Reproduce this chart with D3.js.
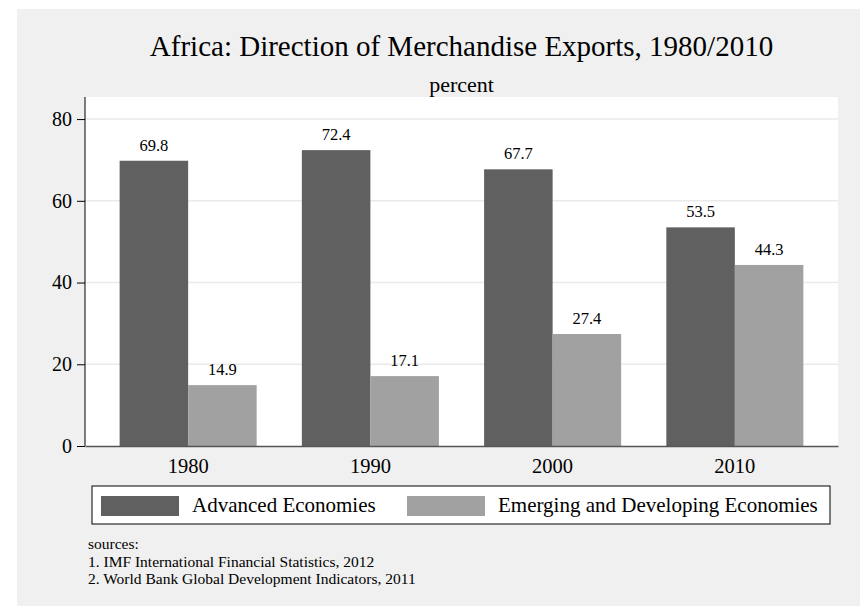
<!DOCTYPE html>
<html>
<head>
<meta charset="utf-8">
<script src="https://cdn.jsdelivr.net/npm/d3@7"></script>
<style>
  body { margin: 0; background: #fff; }
  text { font-family: "Liberation Serif", "Times New Roman", serif; fill: #000; }
</style>
</head>
<body>
<div id="chart"></div>
<script>
const years = ["1980", "1990", "2000", "2010"];
const advanced = [69.8, 72.4, 67.7, 53.5];
const emerging = [14.9, 17.1, 27.4, 44.3];
const seriesNames = ["Advanced Economies", "Emerging and Developing Economies"];
const seriesColors = ["#606060", "#a1a1a1"];
const yTicks = [0, 20, 40, 60, 80];
const sourceLines = [
    "sources:",
    "1. IMF International Financial Statistics, 2012",
    "2. World Bank Global Development Indicators, 2011"
];

const width = 860, height = 606;
const plot = { left: 85, right: 838, top: 97, bottom: 446 };

const svg = d3.select("#chart")
    .append("svg")
    .attr("width", width)
    .attr("height", height);

// outer gray panel
svg.append("rect")
    .attr("x", 17).attr("y", 9)
    .attr("width", width - 17).attr("height", height - 9)
    .attr("fill", "#f0f0f0");

// plot region
svg.append("rect")
    .attr("x", plot.left).attr("y", plot.top)
    .attr("width", plot.right - plot.left).attr("height", plot.bottom - plot.top)
    .attr("fill", "#fff");

const x = d3.scaleBand()
    .domain(years)
    .range([plot.left, plot.right])
    .paddingInner(0.248)
    .paddingOuter(0.19);

const xs = d3.scaleBand()
    .domain(seriesNames)
    .range([0, x.bandwidth()]);

const y = d3.scaleLinear()
    .domain([0, 85.4])
    .range([plot.bottom, plot.top]);

// grid lines
svg.append("g")
    .selectAll("line")
    .data(yTicks.filter(d => d > 0))
    .join("line")
    .attr("x1", plot.left).attr("x2", plot.right)
    .attr("y1", d => y(d)).attr("y2", d => y(d))
    .attr("stroke", "#eaeaea")
    .attr("stroke-width", 1.5);

// bars
const rows = years.map((yr, i) => ({ year: yr, values: [advanced[i], emerging[i]] }));

const groups = svg.append("g")
    .selectAll("g")
    .data(rows)
    .join("g")
    .attr("transform", d => `translate(${x(d.year)},0)`);

groups.selectAll("rect")
    .data(d => d.values.map((v, j) => ({ name: seriesNames[j], value: v, j: j })))
    .join("rect")
    .attr("x", d => xs(d.name))
    .attr("width", xs.bandwidth())
    .attr("y", d => y(d.value))
    .attr("height", d => y(0) - y(d.value))
    .attr("fill", d => seriesColors[d.j]);

groups.selectAll("text")
    .data(d => d.values.map((v, j) => ({ name: seriesNames[j], value: v })))
    .join("text")
    .attr("x", d => xs(d.name) + xs.bandwidth() / 2)
    .attr("y", d => y(d.value) - 10)
    .attr("text-anchor", "middle")
    .style("font-size", "16.5px")
    .text(d => d.value.toFixed(1));

// y axis
const yAxis = svg.append("g")
    .attr("transform", `translate(${plot.left},0)`)
    .call(d3.axisLeft(y).tickValues(yTicks).tickSize(8).tickPadding(5).tickSizeOuter(0));
yAxis.select(".domain").attr("stroke", "#000").attr("d", `M0,${plot.top}V${plot.bottom}`);
yAxis.selectAll(".tick line").attr("stroke", "#000");
yAxis.selectAll(".tick text")
    .style("font-size", "20px")
    .style("font-family", "Liberation Serif");

// x axis
const xAxis = svg.append("g")
    .attr("transform", `translate(0,${plot.bottom})`)
    .call(d3.axisBottom(x).tickSize(0).tickPadding(12));
xAxis.select(".domain").attr("stroke", "#555").attr("stroke-width", 1.5);
xAxis.selectAll(".tick text")
    .style("font-size", "20.5px")
    .style("font-family", "Liberation Serif");

// titles
svg.append("text")
    .attr("x", (plot.left + plot.right) / 2)
    .attr("y", 56)
    .attr("text-anchor", "middle")
    .style("font-size", "29px")
    .text("Africa: Direction of Merchandise Exports, 1980/2010");

svg.append("text")
    .attr("x", (plot.left + plot.right) / 2)
    .attr("y", 92)
    .attr("text-anchor", "middle")
    .style("font-size", "22px")
    .text("percent");

// legend
const legend = svg.append("g").attr("transform", "translate(92,486)");
legend.append("rect")
    .attr("width", 738).attr("height", 38)
    .attr("fill", "#fff")
    .attr("stroke", "#000");

const legendX = [9, 315];
seriesNames.forEach((name, i) => {
    legend.append("rect")
        .attr("x", legendX[i]).attr("y", 10)
        .attr("width", 78).attr("height", 20)
        .attr("fill", seriesColors[i]);
    legend.append("text")
        .attr("x", legendX[i] + 91).attr("y", 26)
        .style("font-size", "21px")
        .text(name);
});

// sources note
svg.append("g")
    .selectAll("text")
    .data(sourceLines)
    .join("text")
    .attr("x", 88)
    .attr("y", (d, i) => 549 + i * 17.5)
    .style("font-size", "15.5px")
    .text(d => d);
</script>
</body>
</html>
